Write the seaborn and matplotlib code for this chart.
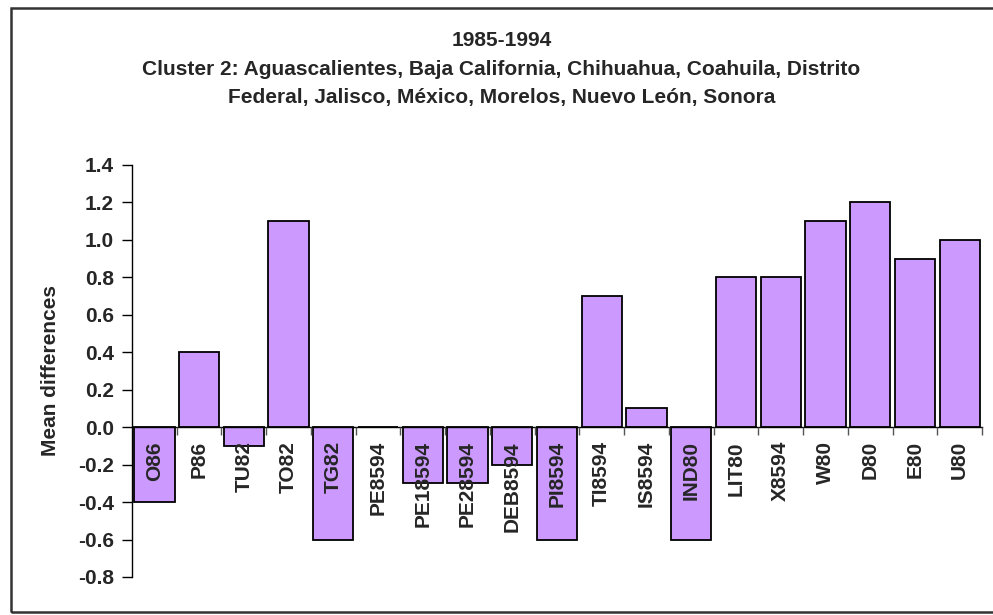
import matplotlib
matplotlib.use("Agg")
import matplotlib.pyplot as plt
from matplotlib.patches import Rectangle
from matplotlib.ticker import FixedLocator, FormatStrFormatter
import seaborn as sns
import pandas as pd

# data
categories = ['O86', 'P86', 'TU82', 'TO82', 'TG82', 'PE8594', 'PE18594', 'PE28594',
              'DEB8594', 'PI8594', 'TI8594', 'IS8594', 'IND80', 'LIT80', 'X8594',
              'W80', 'D80', 'E80', 'U80']
mean_diff = [-0.4, 0.4, -0.1, 1.1, -0.6, 0.0, -0.3, -0.3,
             -0.2, -0.6, 0.7, 0.1, -0.6, 0.8, 0.8,
             1.1, 1.2, 0.9, 1.0]
y_ticks = [-0.8, -0.6, -0.4, -0.2, 0.0, 0.2, 0.4, 0.6, 0.8, 1.0, 1.2, 1.4]

title = ('1985-1994\n'
         'Cluster 2: Aguascalientes, Baja California, Chihuahua, Coahuila, Distrito\n'
         'Federal, Jalisco, México, Morelos, Nuevo León, Sonora')

df = pd.DataFrame({'cat': categories, 'val': mean_diff})

sns.set_style('white')
plt.rcParams['font.family'] = ['Liberation Sans', 'DejaVu Sans']
plt.rcParams['font.weight'] = 'bold'

fig = plt.figure(figsize=(9.93, 6.15), dpi=100)
ax = fig.add_axes([132 / 993, 1 - 577 / 615, (982 - 132) / 993, (577 - 165) / 615])

sns.barplot(data=df, x='cat', y='val', ax=ax, color='#CC99FF', saturation=1,
            edgecolor='black', linewidth=1.3, width=0.9, errorbar=None)

# axis (and its labels) drawn over the bars, as in the original
ax.set_axisbelow(False)

ax.set_xlim(-0.5, len(categories) - 0.5)
ax.set_ylim(-0.8, 1.4)
ax.set_yticks(y_ticks)
ax.yaxis.set_major_formatter(FormatStrFormatter('%.1f'))

# category axis crosses at zero, like the Excel original
ax.spines['bottom'].set_position(('data', 0))
ax.spines['top'].set_visible(False)
ax.spines['right'].set_visible(False)
for s in ['left', 'bottom']:
    ax.spines[s].set_color('black')
    ax.spines[s].set_linewidth(1.0)

ax.tick_params(axis='y', which='major', direction='out', length=7, width=1,
               color='black', labelsize=15, left=True, pad=6)
ax.tick_params(axis='x', which='major', length=0, pad=10, labelsize=15)
ax.xaxis.set_minor_locator(FixedLocator([i + 0.5 for i in range(len(categories))]))
ax.tick_params(axis='x', which='minor', direction='out', length=6, width=1,
               color='#555555', bottom=True)

ax.set_xticks(range(len(categories)))
ax.set_xticklabels(categories, rotation=90, fontweight='bold', va='top', ha='center')
for lbl in ax.get_yticklabels():
    lbl.set_fontweight('bold')

ax.set_xlabel('')
ax.set_ylabel('Mean differences', fontsize=15, fontweight='bold', labelpad=13)

fig.text(0.505, 1 - 31 / 615, title, ha='center', va='top', fontsize=15,
         fontweight='bold', linespacing=1.65)

# outer chart-area border
fig.patches.append(Rectangle((11 / 993, 1 - 612 / 615), 1.2, (612 - 8) / 615,
                             transform=fig.transFigure, fill=False,
                             edgecolor='#333333', linewidth=1.8))

fig.savefig('out.png', dpi=100)
